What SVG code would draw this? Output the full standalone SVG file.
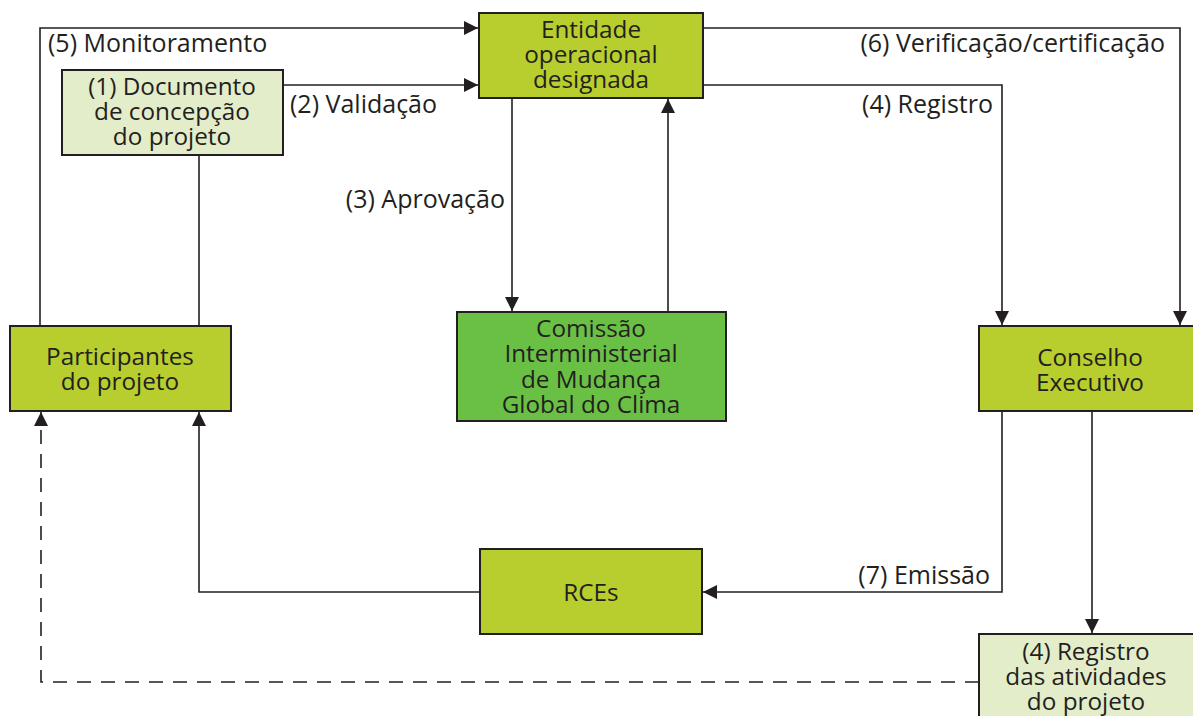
<svg xmlns="http://www.w3.org/2000/svg" width="1193" height="716" viewBox="0 0 1193 716">
<style>
.box{stroke:#231f20;stroke-width:2}
.yg{fill:#b8cd2e}
.lt{fill:#e4edc9}
.gr{fill:#6abf45}
text{font-family:"Open Sans","Noto Sans","Liberation Sans",sans-serif;font-size:24.3px;fill:#231f20}
.lb{font-size:25px}
.c{text-anchor:middle}
.r{text-anchor:end}
.ln{fill:none;stroke:#231f20;stroke-width:1.6}
.dash{stroke-dasharray:14 10}
</style>
<defs>
<marker id="ah" markerUnits="userSpaceOnUse" markerWidth="16" markerHeight="16" refX="14" refY="7" orient="auto">
<path d="M0,0 L14,7 L0,14 Z" fill="#231f20"/>
</marker>
</defs>
<rect width="1193" height="716" fill="#fff"/>
<g id="connectors">
<path class="ln" d="M40,326 V28 H478" marker-end="url(#ah)"/>
<path class="ln" d="M283,85 H478" marker-end="url(#ah)"/>
<path class="ln" d="M199,155 V326"/>
<path class="ln" d="M512,98 V311" marker-end="url(#ah)"/>
<path class="ln" d="M668,312 V99" marker-end="url(#ah)"/>
<path class="ln" d="M703,28 H1180 V325" marker-end="url(#ah)"/>
<path class="ln" d="M703,85 H1002 V325" marker-end="url(#ah)"/>
<path class="ln" d="M1002,411 V592 H703" marker-end="url(#ah)"/>
<path class="ln" d="M1092,411 V633" marker-end="url(#ah)"/>
<path class="ln" d="M480,592 H199 V412" marker-end="url(#ah)"/>
<path class="ln dash" d="M979,682 H41 V412" marker-end="url(#ah)"/>
<text class="lb" x="48" y="52">(5) Monitoramento</text>
<text class="lb" x="290" y="113">(2) Validação</text>
<text class="lb r" x="505" y="208">(3) Aprovação</text>
<text class="lb r" x="1165" y="52">(6) Verificação/certificação</text>
<text class="lb r" x="993" y="113">(4) Registro</text>
<text class="lb r" x="990" y="584">(7) Emissão</text>
</g>
<g id="entidade">
<rect class="box yg" x="479" y="13" width="224" height="85"/>
<text class="c" x="591" y="38">Entidade</text>
<text class="c" x="591" y="63">operacional</text>
<text class="c" x="591" y="88">designada</text>
</g>
<g id="documento">
<rect class="box lt" x="62" y="70" width="221" height="85"/>
<text class="c" x="172" y="95">(1) Documento</text>
<text class="c" x="172" y="120">de concepção</text>
<text class="c" x="172" y="145">do projeto</text>
</g>
<g id="participantes">
<rect class="box yg" x="10" y="326" width="221" height="85"/>
<text class="c" x="120" y="365">Participantes</text>
<text class="c" x="120" y="390">do projeto</text>
</g>
<g id="comissao">
<rect class="box gr" x="457" y="312" width="269" height="109"/>
<text class="c" x="591" y="337">Comissão</text>
<text class="c" x="591" y="362">Interministerial</text>
<text class="c" x="591" y="388">de Mudança</text>
<text class="c" x="591" y="413">Global do Clima</text>
</g>
<g id="conselho">
<rect class="box yg" x="979" y="326" width="220" height="85"/>
<text class="c" x="1090" y="366">Conselho</text>
<text class="c" x="1090" y="391">Executivo</text>
</g>
<g id="rces">
<rect class="box yg" x="480" y="549" width="222" height="85"/>
<text class="c" x="591" y="601">RCEs</text>
</g>
<g id="registro">
<rect class="box lt" x="979" y="634" width="220" height="90"/>
<text class="c" x="1086" y="660">(4) Registro</text>
<text class="c" x="1086" y="685">das atividades</text>
<text class="c" x="1086" y="710">do projeto</text>
</g>
</svg>
